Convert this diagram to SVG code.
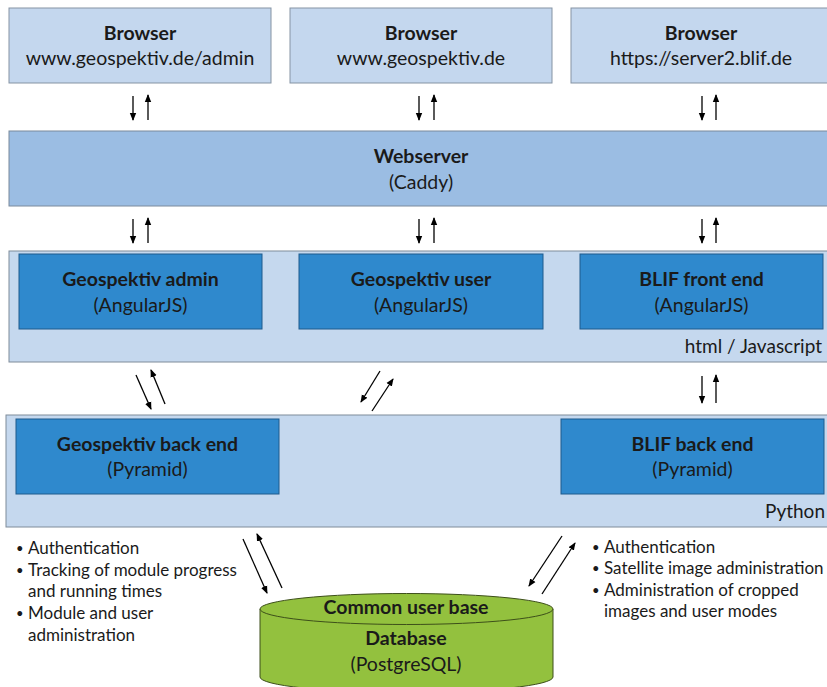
<svg xmlns="http://www.w3.org/2000/svg" width="827" height="687" viewBox="0 0 827 687">
<style>
  text { font-family: Lato, "Open Sans", "Liberation Sans", sans-serif; fill: #1a1a1a; }
  .b { font-weight: bold; }
  .t { font-size: 19.5px; text-anchor: middle; }
  .s { font-size: 17px; }
  .lbl { font-size: 19px; text-anchor: end; }
  .browser { fill: #c4d7ee; stroke: #8593a3; stroke-width: 1; }
  .web { fill: #9bbde3; stroke: #7a8a9c; stroke-width: 1; }
  .layer { fill: #c5d8ee; stroke: #7f8c9a; stroke-width: 1; }
  .comp { fill: #2f89cd; stroke: #1f5a8c; stroke-width: 1; }
  .db { fill: #93c13e; stroke: #3d4f1a; stroke-width: 1; }
  .ar { stroke: #000; stroke-width: 1.3; fill: none; marker-end: url(#ah); }
</style>
<defs>
  <marker id="ah" markerUnits="userSpaceOnUse" markerWidth="8" markerHeight="8" viewBox="0 0 8 8" refX="7" refY="4" orient="auto">
    <path d="M0,0.8 L8,4 L0,7.2 Z" fill="#000"/>
  </marker>
</defs>
<rect width="827" height="687" fill="#fff"/>

<g id="browser-admin">
  <rect class="browser" x="9" y="8" width="262" height="75"/>
  <text class="t b" x="140" y="40">Browser</text>
  <text class="t" x="140" y="65">www.geospektiv.de/admin</text>
</g>
<g id="browser-user">
  <rect class="browser" x="290" y="8" width="262" height="75"/>
  <text class="t b" x="421" y="40">Browser</text>
  <text class="t" x="421" y="65">www.geospektiv.de</text>
</g>
<g id="browser-blif">
  <rect class="browser" x="571" y="8" width="262" height="75"/>
  <text class="t b" x="701" y="40">Browser</text>
  <text class="t" x="701" y="65">https://server2.blif.de</text>
</g>

<g id="webserver">
  <rect class="web" x="9" y="131" width="824" height="75"/>
  <text class="t b" x="421" y="163">Webserver</text>
  <text class="t" x="421" y="189">(Caddy)</text>
</g>

<g id="html-layer">
  <rect class="layer" x="9" y="251" width="824" height="111"/>
  <text class="lbl" x="822" y="353">html / Javascript</text>
</g>
<g id="geospektiv-admin">
  <rect class="comp" x="19" y="254" width="243" height="75"/>
  <text class="t b" x="140.5" y="286">Geospektiv admin</text>
  <text class="t" x="140.5" y="312">(AngularJS)</text>
</g>
<g id="geospektiv-user">
  <rect class="comp" x="299" y="254" width="244" height="75"/>
  <text class="t b" x="421" y="286">Geospektiv user</text>
  <text class="t" x="421" y="312">(AngularJS)</text>
</g>
<g id="blif-front-end">
  <rect class="comp" x="580" y="254" width="243" height="75"/>
  <text class="t b" x="701.5" y="286">BLIF front end</text>
  <text class="t" x="701.5" y="312">(AngularJS)</text>
</g>

<g id="python-layer">
  <rect class="layer" x="6" y="415" width="827" height="112"/>
  <text class="lbl" x="825" y="518">Python</text>
</g>
<g id="geospektiv-back-end">
  <rect class="comp" x="16" y="419" width="263" height="75"/>
  <text class="t b" x="147.5" y="451">Geospektiv back end</text>
  <text class="t" x="147.5" y="476">(Pyramid)</text>
</g>
<g id="blif-back-end">
  <rect class="comp" x="561" y="419" width="263" height="75"/>
  <text class="t b" x="692.5" y="451">BLIF back end</text>
  <text class="t" x="692.5" y="476">(Pyramid)</text>
</g>

<g id="database">
  <path class="db" d="M260,609 L260,677 A146.5,15.5 0 0 0 553,677 L553,609"/>
  <ellipse class="db" cx="406.5" cy="609" rx="146.5" ry="15.5"/>
  <text class="t b" x="406" y="614">Common user base</text>
  <text class="t b" x="406" y="645">Database</text>
  <text class="t" x="406" y="671">(PostgreSQL)</text>
</g>

<g id="notes-left" class="s">
  <text x="16" y="553" style="font-size:13px">•</text><text x="28" y="554">Authentication</text>
  <text x="16" y="575" style="font-size:13px">•</text><text x="28" y="576">Tracking of module progress</text>
  <text x="28" y="597">and running times</text>
  <text x="16" y="618" style="font-size:13px">•</text><text x="28" y="619">Module and user</text>
  <text x="28" y="641">administration</text>
</g>
<g id="notes-right" class="s">
  <text x="592" y="552" style="font-size:13px">•</text><text x="604" y="553">Authentication</text>
  <text x="592" y="573" style="font-size:13px">•</text><text x="604" y="574">Satellite image administration</text>
  <text x="592" y="595" style="font-size:13px">•</text><text x="604" y="596">Administration of cropped</text>
  <text x="604" y="617">images and user modes</text>
</g>

<g id="connectors">
  <line class="ar" x1="133" y1="96" x2="133" y2="120"/>
  <line class="ar" x1="148" y1="120" x2="148" y2="95"/>
  <line class="ar" x1="419" y1="96" x2="419" y2="120"/>
  <line class="ar" x1="434" y1="120" x2="434" y2="95"/>
  <line class="ar" x1="702" y1="96" x2="702" y2="120"/>
  <line class="ar" x1="716" y1="120" x2="716" y2="95"/>

  <line class="ar" x1="133" y1="219" x2="133" y2="243"/>
  <line class="ar" x1="148" y1="243" x2="148" y2="218"/>
  <line class="ar" x1="419" y1="219" x2="419" y2="243"/>
  <line class="ar" x1="434" y1="243" x2="434" y2="218"/>
  <line class="ar" x1="702" y1="219" x2="702" y2="243"/>
  <line class="ar" x1="716" y1="243" x2="716" y2="218"/>

  <line class="ar" x1="136" y1="375" x2="151" y2="409"/>
  <line class="ar" x1="165" y1="404" x2="151" y2="370"/>
  <line class="ar" x1="380" y1="371" x2="361" y2="402"/>
  <line class="ar" x1="372" y1="411" x2="393" y2="379"/>
  <line class="ar" x1="702" y1="376" x2="702" y2="403"/>
  <line class="ar" x1="716" y1="403" x2="716" y2="375"/>

  <line class="ar" x1="243" y1="539" x2="267" y2="593"/>
  <line class="ar" x1="282" y1="588" x2="257" y2="534"/>
  <line class="ar" x1="562" y1="536" x2="529" y2="586"/>
  <line class="ar" x1="542" y1="594" x2="575" y2="543"/>
</g>
</svg>
